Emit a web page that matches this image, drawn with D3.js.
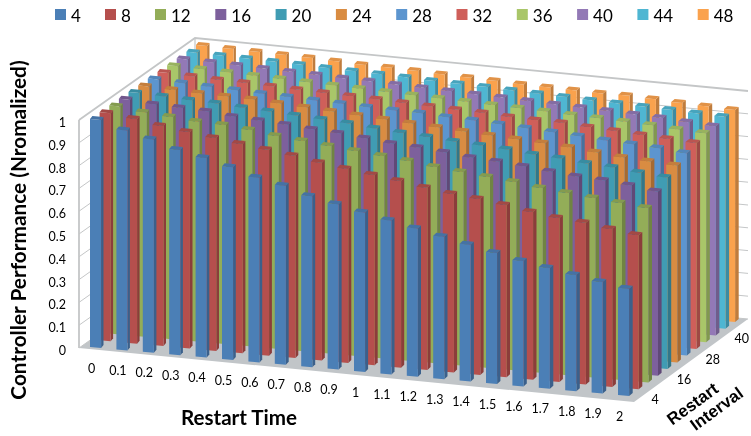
<!DOCTYPE html>
<html>
<head>
<meta charset="utf-8">
<script src="https://cdn.jsdelivr.net/npm/d3@7"></script>
<style>
  html, body { margin: 0; padding: 0; background: #fff; overflow: hidden; }
</style>
</head>
<body>
<div id="my_datavis"></div>
<script>
var restartTimes = ["0", "0.1", "0.2", "0.3", "0.4", "0.5", "0.6", "0.7", "0.8", "0.9", "1", "1.1", "1.2", "1.3", "1.4", "1.5", "1.6", "1.7", "1.8", "1.9", "2"];
var restartIntervals = ["4", "8", "12", "16", "20", "24", "28", "32", "36", "40", "44", "48"];
var intervalTicks = ["4", "16", "28", "40"];
var valueTicks = [0, 0.1, 0.2, 0.3, 0.4, 0.5, 0.6, 0.7, 0.8, 0.9, 1];

var interval4 = [1, .965, .935, .90, .875, .845, .81, .785, .75, .725, .70, .675, .65, .625, .60, .575, .55, .53, .51, .49, .47];
var interval8 = [1, .985, .965, .95, .934, .918, .903, .887, .867, .851, .835, .819, .80, .783, .772, .756, .736, .72, .709, .693, .676];
var interval12 = [1, .985, .975, .965, .961, .95, .934, .923, .911, .90, .889, .877, .861, .85, .839, .827, .811, .80, .789, .777, .766];
var interval16 = [1, .99, .985, .98, .968, .961, .954, .943, .936, .925, .913, .906, .895, .883, .876, .865, .853, .842, .835, .824, .808];
var interval20 = [1, .995, .99, .986, .978, .972, .965, .958, .951, .939, .93, .923, .914, .907, .90, .889, .882, .87, .863, .851, .84];
var interval24 = [1, .995, .99, .987, .985, .978, .971, .964, .956, .95, .943, .936, .929, .921, .915, .908, .90, .889, .878, .871, .864];
var interval28 = [1, .995, .99, .985, .98, .977, .972, .968, .963, .96, .958, .951, .947, .941, .934, .927, .92, .912, .906, .899, .888];
var interval32 = [1, .995, .99, .987, .983, .979, .975, .971, .967, .963, .958, .954, .95, .943, .94, .938, .93, .924, .917, .91, .903];
var interval36 = [1, .997, .993, .99, .986, .982, .978, .975, .971, .967, .964, .96, .956, .952, .948, .944, .94, .935, .93, .922, .916];
var interval40 = [1, .997, .994, .991, .987, .984, .98, .977, .973, .97, .966, .962, .958, .954, .95, .946, .942, .938, .933, .925, .918];
var interval44 = [1, .997, .995, .992, .989, .985, .982, .979, .975, .971, .968, .965, .961, .957, .953, .949, .946, .942, .938, .934, .93];
var interval48 = [1, .997, .995, .992, .99, .985, .98, .978, .974, .97, .966, .962, .958, .955, .952, .95, .95, .945, .94, .935, .93];

var seriesValues = [interval4, interval8, interval12, interval16, interval20, interval24, interval28, interval32, interval36, interval40, interval44, interval48];

var frontColors = ["#4c7fb6", "#b5504d", "#93ad58", "#7d619c", "#3f9cb3", "#d98c43", "#5b95cf", "#cf5f5a", "#a9c669", "#9379b6", "#4fb6d2", "#faa24e"];

var width = 751, height = 436;

var svg = d3.select("#my_datavis")
  .append("svg")
  .attr("width", width)
  .attr("height", height)
  .style("display", "block");

var defs = svg.append("defs");
defs.append("filter").attr("id", "soft")
  .attr("x", 0).attr("y", 0).attr("width", "100%").attr("height", "100%")
  .attr("filterUnits", "userSpaceOnUse")
  .append("feGaussianBlur").attr("stdDeviation", 0.4);

var root = svg.append("g").attr("filter", "url(#soft)");
root.append("rect").attr("width", width).attr("height", height).attr("fill", "#fff");

// floor is laid out in two oblique directions, height stays vertical
var timeX = d3.scalePoint().domain(restartTimes).range([90, 618]);
var timeY = d3.scalePoint().domain(restartTimes).range([0, 48]);
var depthX = d3.scalePoint().domain(restartIntervals).range([0, 106]);
var depthY = d3.scalePoint().domain(restartIntervals).range([347, 273]);
var valueH = d3.scaleLinear().domain([0, 1]).range([0, 228]);
var axisY = d3.scaleLinear().domain([0, 1]).range([348, 120]);

function pts(list) {
  return list.map(function(p) { return p[0].toFixed(1) + "," + p[1].toFixed(1); }).join(" ");
}

var corners = { fl: [79, 348], fr: [634, 402], br: [748, 319], bl: [195, 266] };
var wallLine = "#c4c6c7";

root.append("polygon")
  .attr("points", pts([corners.fl, corners.fr, corners.br, corners.bl]))
  .attr("fill", "#c1c5c8");

// walls
var wallGrid = root.append("g").attr("fill", "none").attr("stroke", wallLine).attr("stroke-width", 1);
wallGrid.selectAll("polyline.grid")
  .data(valueTicks)
  .enter()
  .append("polyline")
  .attr("points", function(d) {
    var h = valueH(d);
    return pts([[corners.fl[0], corners.fl[1] - h], [corners.bl[0], corners.bl[1] - h], [corners.br[0], corners.br[1] - h]]);
  })
  .attr("stroke-width", function(d) { return d == 1 ? 1.8 : 1; });
wallGrid.append("polyline")
  .attr("points", pts([[corners.fl[0], corners.fl[1]], [corners.fl[0], corners.fl[1] - valueH(1)]]))
  .attr("stroke-width", 1.8);
wallGrid.append("polyline")
  .attr("points", pts([[corners.bl[0], corners.bl[1]], [corners.bl[0], corners.bl[1] - valueH(1)]]))
  .attr("stroke-width", 1.2);

// bars, back row first so the nearer ones cover it
var bars = [];
restartIntervals.slice().reverse().forEach(function(interval) {
  var j = restartIntervals.indexOf(interval);
  restartTimes.forEach(function(time, i) {
    bars.push({ time: time, interval: interval, i: i, j: j, value: seriesValues[j][i] });
  });
});

var barWidth = timeX.step() * 0.42;
var slope = timeY.step() / timeX.step();

var barGroups = root.append("g").selectAll("g.bar")
  .data(bars)
  .enter()
  .append("g")
  .attr("class", "bar");

function barCorners(d) {
  var x0 = timeX(d.time) + depthX(d.interval);
  var y0 = timeY(d.time) + depthY(d.interval);
  var h = valueH(d.value);
  var sideW = 2.4 + 1.2 * d.i / 20;
  var sideH = 3;
  var a = [x0, y0];
  var b = [x0 + barWidth, y0 + barWidth * slope];
  var c = [b[0] + sideW, b[1] - sideH];
  var e = [a[0] + sideW, a[1] - sideH];
  return { a: a, b: b, c: c, e: e, h: h };
}
function up(p, h) { return [p[0], p[1] - h]; }

barGroups.append("polygon")
  .attr("fill", function(d) { return d3.color(frontColors[d.j]).darker(0.75); })
  .attr("points", function(d) {
    var q = barCorners(d);
    return pts([q.b, q.c, up(q.c, q.h), up(q.b, q.h)]);
  });
barGroups.append("polygon")
  .attr("fill", function(d) { return frontColors[d.j]; })
  .attr("points", function(d) {
    var q = barCorners(d);
    return pts([q.a, q.b, up(q.b, q.h), up(q.a, q.h)]);
  });
barGroups.append("polygon")
  .attr("fill", function(d) { return d3.color(frontColors[d.j]).darker(0.3); })
  .attr("points", function(d) {
    var q = barCorners(d);
    return pts([up(q.a, q.h), up(q.b, q.h), up(q.c, q.h), up(q.e, q.h)]);
  });

// value axis
var yAxis = root.append("g")
  .attr("transform", "translate(66,2.5)")
  .call(d3.axisLeft(axisY).tickValues(valueTicks).tickSize(0).tickPadding(0).tickFormat(d3.format("~g")));
yAxis.select(".domain").remove();
yAxis.selectAll("text")
  .attr("font-family", "Lato")
  .attr("font-size", 12.5)
  .attr("fill", "#000");

// restart time labels
root.append("g").selectAll("text.time")
  .data(restartTimes)
  .enter()
  .append("text")
  .attr("class", "time")
  .attr("x", function(d) { return timeX(d) + 1.5; })
  .attr("y", function(d) { return timeY(d) + 372.5; })
  .attr("text-anchor", "middle")
  .attr("font-family", "Lato")
  .attr("font-size", 12.5)
  .attr("fill", "#000")
  .text(function(d) { return d; });

// restart interval labels
root.append("g").selectAll("text.interval")
  .data(intervalTicks)
  .enter()
  .append("text")
  .attr("class", "interval")
  .attr("x", function(d) { return depthX(d) + 655; })
  .attr("y", function(d) { return depthY(d) + 57; })
  .attr("text-anchor", "middle")
  .attr("font-family", "Lato")
  .attr("font-size", 12.5)
  .attr("fill", "#000")
  .text(function(d) { return d; });

// axis titles
root.append("text")
  .attr("transform", "translate(26,230) rotate(-90)")
  .attr("text-anchor", "middle")
  .attr("font-family", "Lato")
  .attr("font-weight", 700)
  .attr("font-size", 20.8)
  .attr("fill", "#000")
  .text("Controller Performance (Nromalized)");

root.append("text")
  .attr("x", 239)
  .attr("y", 425)
  .attr("text-anchor", "middle")
  .attr("font-family", "Lato")
  .attr("font-weight", 700)
  .attr("font-size", 20.6)
  .attr("fill", "#000")
  .text("Restart Time");

root.append("text")
  .attr("transform", "translate(696,408.5) rotate(-36)")
  .attr("text-anchor", "middle")
  .attr("font-family", "Liberation Sans")
  .attr("font-weight", 700)
  .attr("font-size", 17)
  .attr("fill", "#000")
  .text("Restart");

root.append("text")
  .attr("transform", "translate(720,413.5) rotate(-36)")
  .attr("text-anchor", "middle")
  .attr("font-family", "Liberation Sans")
  .attr("font-weight", 700)
  .attr("font-size", 17)
  .attr("fill", "#000")
  .text("Interval");

// legend
var legendX = 55;
var legend = root.append("g");
restartIntervals.forEach(function(label, j) {
  legend.append("rect")
    .attr("x", legendX).attr("y", 9)
    .attr("width", 11).attr("height", 11)
    .attr("fill", frontColors[j]);
  legend.append("text")
    .attr("x", legendX + 16).attr("y", 21.5)
    .attr("font-family", "Lato")
    .attr("font-size", 17)
    .attr("fill", "#000")
    .text(label);
  legendX += label.length == 1 ? 50 : 60.3;
});
</script>
</body>
</html>
